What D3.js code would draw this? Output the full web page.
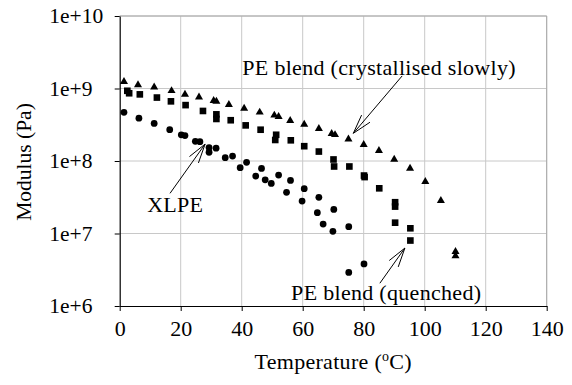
<!DOCTYPE html>
<html>
<head>
<meta charset="utf-8">
<script src="https://cdn.jsdelivr.net/npm/d3@7"></script>
<style>
  body { margin: 0; background: #fff; }
</style>
</head>
<body>
<div id="graphic"></div>
<script>
// PE blend (crystallised slowly) - triangles
var slowTemp = [1.4, 6.0, 11.3, 17.0, 21.4, 26.0, 30.8, 31.7, 35.8, 40.8, 45.9, 50.7, 52.1, 55.9, 60.5, 65.3, 69.5, 70.6, 75.0, 80.0, 85.0, 90.0, 95.2, 100.2, 105.3, 110.1, 110.1];
var slowMod = [1.24e9, 1.12e9, 1.04e9, 9.3e8, 8.3e8, 7.6e8, 6.8e8, 6.65e8, 6.0e8, 5.3e8, 4.7e8, 4.27e8, 4.1e8, 3.6e8, 3.2e8, 2.8e8, 2.38e8, 2.3e8, 2.0e8, 1.68e8, 1.39e8, 1.05e8, 7.9e7, 5.2e7, 2.84e7, 5.6e6, 4.9e6];

// PE blend (quenched) - squares
var quenchTemp = [2.5, 3.1, 6.6, 12.2, 16.8, 21.6, 27.3, 31.7, 31.7, 36.4, 41.3, 46.2, 51.3, 51.0, 56.1, 60.5, 65.3, 70.1, 70.3, 75.3, 80.1, 80.3, 85.1, 90.3, 90.3, 90.3, 95.3, 95.3];
var quenchMod = [9.3e8, 8.6e8, 8.3e8, 7.5e8, 6.65e8, 5.9e8, 4.9e8, 4.4e8, 3.8e8, 3.65e8, 3.1e8, 2.7e8, 2.3e8, 1.95e8, 1.93e8, 1.6e8, 1.35e8, 1.05e8, 8.4e7, 8.4e7, 6.3e7, 6.0e7, 4.2e7, 2.7e7, 2.35e7, 1.41e7, 1.18e7, 8.0e6];

// XLPE - circles
var xlpeTemp = [1.4, 6.3, 11.3, 16.4, 20.2, 21.4, 24.8, 26.3, 29.3, 29.3, 31.6, 34.6, 37.0, 39.5, 41.6, 44.6, 46.5, 47.7, 49.7, 52.1, 54.7, 56.0, 59.8, 60.5, 64.8, 65.3, 66.7, 69.9, 70.2, 75.1, 75.1, 80.1];
var xlpeMod = [4.7e8, 3.9e8, 3.3e8, 2.7e8, 2.3e8, 2.24e8, 1.87e8, 1.85e8, 1.53e8, 1.32e8, 1.5e8, 1.11e8, 1.17e8, 8.1e7, 9.6e7, 6.2e7, 7.9e7, 5.5e7, 4.9e7, 6.4e7, 3.7e7, 5.4e7, 2.8e7, 4.15e7, 1.94e7, 3.15e7, 1.35e7, 1.07e7, 2.15e7, 1.24e7, 2.9e6, 3.8e6];

var xTicks = [0, 20, 40, 60, 80, 100, 120, 140];
var yTicks = [1e6, 1e7, 1e8, 1e9, 1e10];

// annotations: label text, label anchor [T, G], arrow start and tip [T, G]
var labels = [
  { text: "PE blend (crystallised slowly)", at: [40.2, 1.53e9], from: [92.6, 1.49e9], to: [76.6, 2.41e8] },
  { text: "XLPE", at: [9.0, 1.98e7], from: [16.5, 3.58e7], to: [28.0, 1.71e8] },
  { text: "PE blend (quenched)", at: [56.2, 1.21e6], from: [85.3, 2.06e6], to: [93.5, 6.3e6] }
];

var FONT = "'Liberation Serif', 'Times New Roman', Times, serif";

var W = 572, H = 385;
var margin = { top: 16, right: 25.3, bottom: 79, left: 119.7 };
var width = W - margin.left - margin.right;
var height = H - margin.top - margin.bottom;

var svg = d3.select("#graphic").append("svg")
  .attr("width", W)
  .attr("height", H)
  .style("font-family", FONT)
  .append("g")
  .attr("transform", "translate(" + margin.left + "," + margin.top + ")");

var x = d3.scaleLinear().domain([0, 140]).range([0, width]);
var y = d3.scaleLog().domain([1e6, 1e10]).range([height, 0]);

// grid
svg.append("g")
  .selectAll("line")
  .data(xTicks.slice(1))
  .enter().append("line")
  .attr("x1", d => x(d)).attr("x2", d => x(d))
  .attr("y1", 0).attr("y2", height)
  .attr("stroke", "#c8c8c8").attr("stroke-width", 1);

svg.append("g")
  .selectAll("line")
  .data(yTicks.slice(1))
  .enter().append("line")
  .attr("x1", 0).attr("x2", width)
  .attr("y1", d => y(d)).attr("y2", d => y(d))
  .attr("stroke", "#c8c8c8").attr("stroke-width", 1);

// grey frame on top and right
svg.append("line").attr("x1", 0).attr("x2", width).attr("y1", 0).attr("y2", 0)
  .attr("stroke", "#a8a8a8").attr("stroke-width", 1);
svg.append("line").attr("x1", width).attr("x2", width).attr("y1", 0).attr("y2", height)
  .attr("stroke", "#a8a8a8").attr("stroke-width", 1);

// axes
var fmt = d => "1e+" + Math.round(Math.log10(d));

var xAxis = svg.append("g")
  .attr("transform", "translate(0," + height + ")")
  .call(d3.axisBottom(x).tickValues(xTicks).tickSize(5).tickSizeOuter(0));
xAxis.selectAll("text")
  .style("font-family", FONT).style("font-size", "22px")
  .attr("fill", "#000").attr("dy", "1.02em");

var yAxis = svg.append("g")
  .call(d3.axisLeft(y).tickValues(yTicks).tickFormat(fmt).tickSize(5).tickSizeOuter(0));
yAxis.selectAll("text")
  .style("font-family", FONT).style("font-size", "21.5px")
  .attr("fill", "#000")
  .attr("text-anchor", "start")
  .attr("x", 49.3 - margin.left);

svg.selectAll(".domain").attr("stroke", "#000").attr("stroke-width", 1.2);
svg.selectAll(".tick line").attr("stroke", "#000");

// axis titles
svg.append("text")
  .attr("x", width / 2)
  .attr("y", height + 63)
  .attr("text-anchor", "middle")
  .style("font-family", FONT).style("font-size", "22px")
  .style("letter-spacing", "0.3px")
  .html('Temperature (<tspan font-size="14px" dy="-8">o</tspan><tspan dy="8">C)</tspan>');

svg.append("text")
  .attr("transform", "translate(" + (23.7 - margin.left) + "," + (162 - margin.top) + ") rotate(-90)")
  .attr("text-anchor", "middle")
  .attr("dy", "0.35em")
  .style("font-family", FONT).style("font-size", "21.5px")
  .text("Modulus (Pa)");

// markers
function plot(temps, mods, type, size) {
  svg.append("g")
    .selectAll("path")
    .data(temps.map((t, i) => [t, mods[i]]))
    .enter().append("path")
    .attr("transform", d => "translate(" + x(d[0]) + "," + y(d[1]) + ")")
    .attr("d", d3.symbol().type(type).size(size))
    .attr("fill", "#000");
}
plot(slowTemp, slowMod, d3.symbolTriangle, 28);
plot(quenchTemp, quenchMod, d3.symbolSquare, 44);
plot(xlpeTemp, xlpeMod, d3.symbolCircle, 36);

// annotations
labels.forEach(function (l) {
  svg.append("text")
    .attr("x", x(l.at[0]))
    .attr("y", y(l.at[1]))
    .style("font-family", FONT).style("font-size", "22px")
    .style("letter-spacing", "0.3px")
    .text(l.text);

  var x0 = x(l.from[0]), y0 = y(l.from[1]);
  var x1 = x(l.to[0]), y1 = y(l.to[1]);
  svg.append("line")
    .attr("x1", x0).attr("y1", y0).attr("x2", x1).attr("y2", y1)
    .attr("stroke", "#000").attr("stroke-width", 1);

  var ang = Math.atan2(y0 - y1, x0 - x1);
  var len = 20, spread = 16 * Math.PI / 180;
  [-spread, spread].forEach(function (s) {
    svg.append("line")
      .attr("x1", x1).attr("y1", y1)
      .attr("x2", x1 + len * Math.cos(ang + s))
      .attr("y2", y1 + len * Math.sin(ang + s))
      .attr("stroke", "#000").attr("stroke-width", 1);
  });
});
</script>
</body>
</html>
